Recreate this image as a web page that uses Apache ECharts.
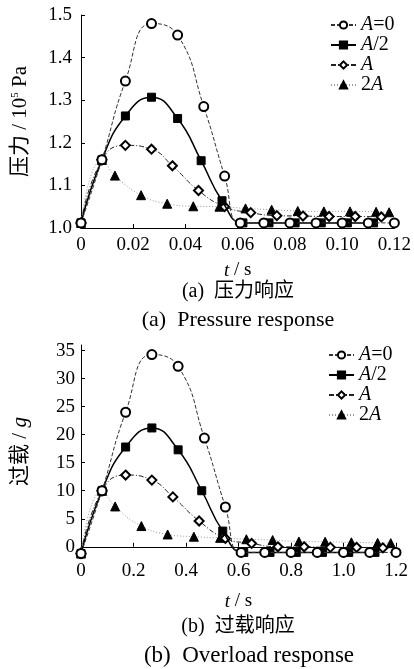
<!DOCTYPE html>
<html>
<head>
<meta charset="utf-8">
<script src="https://cdn.jsdelivr.net/npm/echarts@6/dist/echarts.min.js"></script>
<style>
  html, body { margin: 0; padding: 0; background: #fff; }
  #main { width: 414px; height: 669px; }
</style>
</head>
<body>
<div id="main"></div>
<script>
// legend names
var names = ['A=0', 'A/2', 'A', '2A']

// (a) pressure response, t in s, p in 10^5 Pa
var tA0 = [0, 0.008, 0.017, 0.027, 0.037, 0.047, 0.055, 0.061, 0.070, 0.080, 0.090, 0.100, 0.110, 0.120]
var pA0 = [1.012, 1.16, 1.345, 1.48, 1.453, 1.285, 1.122, 1.012, 1.012, 1.012, 1.012, 1.012, 1.012, 1.012]
var tA2 = [0, 0.008, 0.017, 0.027, 0.037, 0.046, 0.054, 0.062, 0.072, 0.082, 0.092, 0.102, 0.112]
var pA2 = [1.012, 1.16, 1.263, 1.307, 1.257, 1.158, 1.064, 1.012, 1.012, 1.012, 1.012, 1.012, 1.012]
var tA1 = [0, 0.008, 0.017, 0.027, 0.035, 0.045, 0.055, 0.065, 0.075, 0.085, 0.095, 0.105, 0.115]
var pA1 = [1.012, 1.16, 1.194, 1.185, 1.146, 1.088, 1.05, 1.036, 1.029, 1.028, 1.027, 1.027, 1.026]
var t2A = [0, 0.008, 0.013, 0.023, 0.033, 0.043, 0.053, 0.063, 0.073, 0.083, 0.093, 0.103, 0.113, 0.118]
var p2A = [1.012, 1.16, 1.123, 1.077, 1.057, 1.051, 1.05, 1.046, 1.043, 1.04, 1.039, 1.039, 1.038, 1.037]

// (b) overload response, in g
var sA0 = [0, 0.08, 0.17, 0.27, 0.37, 0.47, 0.55, 0.61, 0.70, 0.80, 0.90, 1.00, 1.10, 1.20]
var gA0 = [-1.2, 10, 24, 34.3, 32.2, 19.4, 7.1, -1, -1, -1, -1, -1, -1, -1]
var sA2 = [0, 0.08, 0.17, 0.27, 0.37, 0.46, 0.54, 0.62, 0.72, 0.82, 0.92, 1.02, 1.12]
var gA2 = [-1.2, 10, 17.8, 21.2, 17.3, 10, 2.8, -1, -1, -1, -1, -1, -1]
var sA1 = [0, 0.08, 0.17, 0.27, 0.35, 0.45, 0.55, 0.65, 0.75, 0.85, 0.95, 1.05, 1.15]
var gA1 = [-1.2, 10, 12.8, 11.9, 8.9, 4.6, 1.5, 0.6, 0, 0, -0.1, -0.1, -0.2]
var s2A = [0, 0.08, 0.13, 0.23, 0.33, 0.43, 0.53, 0.63, 0.73, 0.83, 0.93, 1.03, 1.13, 1.18]
var g2A = [-1.2, 10, 7.2, 3.7, 2.2, 1.8, 1.6, 1.35, 1.2, 0.95, 0.9, 0.8, 0.7, 0.65]

var gTicks = [0, 5, 10, 15, 20, 25, 30, 35]

var serif = '"Liberation Serif", "Noto Sans CJK SC", serif'

function zip(xs, ys) {
  var out = []
  for (var i = 0; i < xs.length; i++) out.push([xs[i], ys[i]])
  return out
}

// one style per curve
var styles = [
  {symbol: 'emptyCircle', symbolSize: 9, line: {color: '#333', width: 1, type: [4, 2]}},
  {symbol: 'rect', symbolSize: 8, line: {color: '#000', width: 1.5, type: 'solid'}},
  {symbol: 'emptyDiamond', symbolSize: 9, line: {color: '#222', width: 1, type: [5, 2, 1, 2]}},
  {symbol: 'triangle', symbolSize: 9, line: {color: '#999', width: 1, type: [1, 2]}}
]

function mk(i, idx, data) {
  var s = styles[i]
  return {
    name: names[i],
    type: 'line',
    xAxisIndex: idx,
    yAxisIndex: idx,
    smooth: true,
    symbol: s.symbol,
    symbolSize: s.symbolSize,
    showAllSymbol: true,
    lineStyle: s.line,
    itemStyle: {color: '#000', borderColor: '#000', borderWidth: 1},
    z: 10 - i,
    data: data
  }
}

var axisCommon = {
  axisLine: {lineStyle: {color: '#000', width: 1}},
  axisTick: {show: true, inside: true, length: 4, lineStyle: {color: '#000'}},
  splitLine: {show: false},
  axisLabel: {color: '#000', fontFamily: serif, fontSize: 19}
}

function legendFor(top, left) {
  return {
    orient: 'vertical',
    left: left,
    top: top,
    itemWidth: 25,
    itemHeight: 9,
    itemGap: 0,
    padding: 0,
    data: names,
    formatter: function (n) { return n.replace('A', '{i|A}') },
    textStyle: {
      color: '#000', fontFamily: serif, fontSize: 20, lineHeight: 19,
      rich: {i: {fontStyle: 'italic', fontFamily: serif, fontSize: 20, lineHeight: 19}}
    }
  }
}

function caption(text, x, y, size) {
  return {
    type: 'text', x: x, y: y,
    style: {text: text, font: size + 'px ' + serif, fill: '#000', align: 'center', verticalAlign: 'middle'}
  }
}

var myChart = echarts.init(document.getElementById('main'))
myChart.setOption({
  animation: false,
  backgroundColor: '#fff',
  legend: [legendFor(15, 330), legendFor(345, 328)],
  grid: [
    {left: 81, right: 18, top: 15, height: 213},
    {left: 81, right: 18, top: 345, height: 213}
  ],
  xAxis: [
    Object.assign({}, axisCommon, {
      type: 'value', gridIndex: 0, min: 0, max: 0.12, interval: 0.02,
      axisLabel: Object.assign({}, axisCommon.axisLabel, {margin: 8,
        formatter: function (v) { return v === 0 ? '0' : v.toFixed(2) }}),
      name: '{i|t} / s', nameLocation: 'middle', nameGap: 33,
      nameTextStyle: {color: '#000', fontFamily: serif, fontSize: 19,
        rich: {i: {fontStyle: 'italic', fontFamily: serif, fontSize: 19}}}
    }),
    Object.assign({}, axisCommon, {
      type: 'value', gridIndex: 1, min: 0, max: 1.2, interval: 0.2,
      axisLabel: Object.assign({}, axisCommon.axisLabel, {margin: 4,
        formatter: function (v) { return v === 0 ? '0' : v.toFixed(1) }}),
      name: '{i|t} / s', nameLocation: 'middle', nameGap: 34,
      nameTextStyle: {color: '#000', fontFamily: serif, fontSize: 19,
        rich: {i: {fontStyle: 'italic', fontFamily: serif, fontSize: 19}}}
    })
  ],
  yAxis: [
    Object.assign({}, axisCommon, {
      type: 'value', gridIndex: 0, min: 1.0, max: 1.5, interval: 0.1,
      axisLabel: Object.assign({}, axisCommon.axisLabel, {margin: 9,
        formatter: function (v) { return v.toFixed(1) }}),
      name: '压力 / 10{sup|5} Pa', nameLocation: 'middle', nameGap: 50,
      nameTextStyle: {color: '#000', fontFamily: serif, fontSize: 21,
        rich: {sup: {fontFamily: serif, fontSize: 11, verticalAlign: 'top', padding: [0, 0, 8, 0]}}}
    }),
    Object.assign({}, axisCommon, {
      type: 'value', gridIndex: 1, min: -2, max: 36,
      axisTick: Object.assign({}, axisCommon.axisTick, {customValues: gTicks}),
      axisLabel: Object.assign({}, axisCommon.axisLabel, {margin: 6, customValues: gTicks}),
      name: '过载 / {i|g}', nameLocation: 'middle', nameGap: 50,
      nameTextStyle: {color: '#000', fontFamily: serif, fontSize: 21,
        rich: {i: {fontStyle: 'italic', fontFamily: serif, fontSize: 21}}}
    })
  ],
  graphic: [
    caption('(a)  压力响应', 238, 292, 20),
    caption('(a)  Pressure response', 238, 320, 22),
    caption('(b)  过载响应', 238, 627, 20),
    caption('(b)  Overload response', 249, 656, 23)
  ],
  series: [
    mk(0, 0, zip(tA0, pA0)),
    mk(1, 0, zip(tA2, pA2)),
    mk(2, 0, zip(tA1, pA1)),
    mk(3, 0, zip(t2A, p2A)),
    mk(0, 1, zip(sA0, gA0)),
    mk(1, 1, zip(sA2, gA2)),
    mk(2, 1, zip(sA1, gA1)),
    mk(3, 1, zip(s2A, g2A))
  ]
})
window.addEventListener('resize', function () { myChart.resize() })
</script>
</body>
</html>
